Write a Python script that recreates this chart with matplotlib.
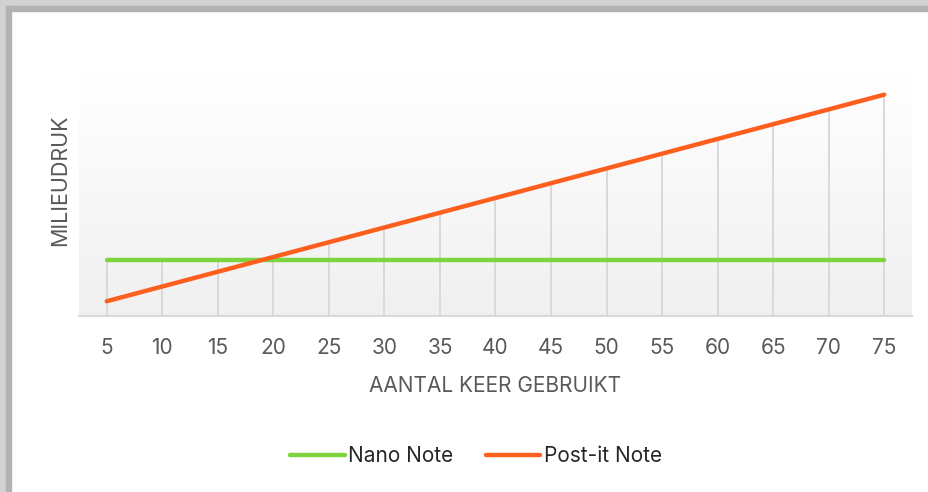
import numpy as np
import matplotlib
matplotlib.use('Agg')
import matplotlib.pyplot as plt
from matplotlib.patches import Rectangle
from matplotlib.lines import Line2D

# data
uses = [5, 10, 15, 20, 25, 30, 35, 40, 45, 50, 55, 60, 65, 70, 75]
nano_note = [19] * 15
postit_note = [5, 10, 15, 20, 25, 30, 35, 40, 45, 50, 55, 60, 65, 70, 75]

GREEN = '#7ed43e'
ORANGE = '#fd5f1f'
GRID = '#d9d9d9'
TEXT = '#595959'

plt.rcParams['font.family'] = ['Inter', 'DejaVu Sans']

fig = plt.figure(figsize=(9.29, 4.92), dpi=100)
fig.patch.set_facecolor('white')

# grey frame on top and left (shadow of the screenshot)
W, H = 929, 492
def px_rect(x, y, w, h, color):
    fig.patches.append(Rectangle((x / W, 1 - (y + h) / H), w / W, h / H,
                                 transform=fig.transFigure, color=color, zorder=0))
px_rect(0, 0, W, 6, '#d2d2d2')
px_rect(0, 6, W, 5, '#b3b3b3')
px_rect(0, 0, 6, H, '#d2d2d2')
px_rect(6, 6, 5, H - 6, '#b3b3b3')

ax = fig.add_axes([79 / W, 1 - 316 / H, (912 - 79) / W, (316 - 74) / H])
x = np.arange(len(uses))
ax.set_xlim(-0.5, len(uses) - 0.5)
ax.set_ylim(0, 82)

# soft vertical gradient behind the plot
grad = np.linspace(0, 1, 256).reshape(-1, 1)
ax.imshow(grad, extent=(-0.5, len(uses) - 0.5, 0, 82), aspect='auto',
          cmap=matplotlib.colors.LinearSegmentedColormap.from_list('g', ['#f0f0f0', '#ffffff']),
          origin='lower', zorder=0)

# drop lines from the highest point down to the axis
tops = np.maximum(nano_note, postit_note)
ax.vlines(x, 0, tops, colors=GRID, linewidth=1.4, zorder=1)

ax.plot(x, nano_note, color=GREEN, linewidth=3.2, solid_capstyle='round', zorder=3)
ax.plot(x, postit_note, color=ORANGE, linewidth=3.2, solid_capstyle='round', zorder=4)

for s in ['top', 'right', 'left']:
    ax.spines[s].set_visible(False)
ax.spines['bottom'].set_color(GRID)
ax.spines['bottom'].set_linewidth(1.5)
ax.set_yticks([])
ax.set_xticks(x)
ax.set_xticklabels([str(u) for u in uses], fontsize=15, color=TEXT)
ax.tick_params(axis='x', length=0, pad=16)

fig.text(495 / W, 1 - 386 / H, 'AANTAL KEER GEBRUIKT',
         ha='center', va='center', fontsize=15, color=TEXT)
fig.text(60 / W, 1 - 180 / H, 'MILIEUDRUK', rotation=90, ha='center', va='center',
         fontsize=15.5, color=TEXT)

handles = [Line2D([], [], color=GREEN, linewidth=3.2, solid_capstyle='round'),
           Line2D([], [], color=ORANGE, linewidth=3.2, solid_capstyle='round')]
fig.legend(handles, ['Nano Note', 'Post-it Note'], loc='center', ncol=2,
           bbox_to_anchor=(476 / W, 1 - 456 / H), frameon=False, fontsize=15,
           handlelength=2.6, handletextpad=0.15, columnspacing=1.6,
           labelcolor='#262626')

fig.savefig('out.png', dpi=100, facecolor='white')
